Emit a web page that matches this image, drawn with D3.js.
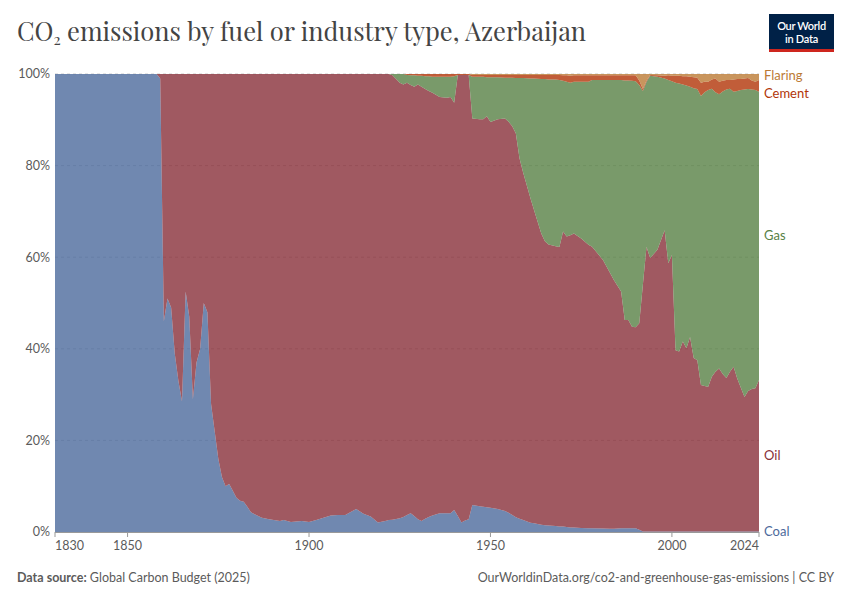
<!DOCTYPE html>
<html lang="en">
<head>
<meta charset="utf-8">
<title>CO2 emissions by fuel or industry type, Azerbaijan</title>
<script src="https://d3js.org/d3.v7.min.js"></script>
<style>
  body { margin: 0; background: #fff; font-family: Lato, "Noto Sans", sans-serif; }
  .tick-label { fill: #5b5b5b; font-size: 12.5px; }
</style>
</head>
<body>
<script>
  // ---------------- data (share of annual CO2, %) ----------------
  const years = [1830, 1858, 1859, 1860, 1861, 1862, 1863, 1864, 1865, 1866, 1867, 1868, 1869, 1870,
    1871, 1872, 1873, 1874, 1875, 1876, 1877, 1878, 1879, 1880, 1881, 1882, 1883, 1884, 1885, 1887,
    1889, 1892, 1893, 1895, 1898, 1900, 1902, 1904, 1906, 1908, 1910, 1913, 1915, 1917, 1919, 1921,
    1922, 1923, 1925, 1926, 1927, 1928, 1929, 1930, 1931, 1932, 1933, 1934, 1936, 1938, 1939, 1940,
    1941, 1942, 1943, 1944, 1945, 1947, 1948, 1949, 1950, 1952, 1954, 1955, 1956, 1957, 1958, 1959,
    1961, 1962, 1964, 1965, 1966, 1968, 1969, 1970, 1971, 1972, 1973, 1975, 1977, 1978, 1981, 1983,
    1984, 1986, 1987, 1988, 1989, 1990, 1991, 1992, 1993, 1994, 1996, 1998, 1999, 2000, 2001, 2002,
    2003, 2004, 2005, 2006, 2007, 2008, 2009, 2010, 2011, 2012, 2013, 2014, 2015, 2016, 2017, 2018,
    2019, 2020, 2021, 2022, 2023, 2024];

  const coal = [100, 100, 99, 46, 51, 49, 39, 33, 28.5, 52.5, 47, 29, 37, 40,
    50, 48, 28, 22, 16, 12, 10, 10.5, 9, 7.5, 6.8, 6.6, 5.5, 4.3, 3.9, 3.1,
    2.8, 2.4, 2.6, 2.2, 2.4, 2.2, 2.6, 3.1, 3.6, 3.7, 3.7, 5.0, 4.0, 3.4, 2.1, 2.4,
    2.6, 2.7, 3.0, 3.3, 3.7, 4.1, 3.5, 2.8, 2.4, 2.9, 3.3, 3.6, 4.1, 4.1, 4.1, 4.8,
    3.5, 2.1, 2.5, 2.8, 5.9, 5.6, 5.5, 5.4, 5.3, 5.0, 4.6, 4.2, 3.7, 3.2, 2.9, 2.6,
    2.0, 1.9, 1.6, 1.5, 1.4, 1.3, 1.2, 1.2, 1.1, 1.0, 1.0, 0.9, 0.8, 0.8, 0.75, 0.7,
    0.7, 0.8, 0.8, 0.8, 0.8, 0.8, 0.5, 0.1, 0.1, 0.1, 0.1, 0.1, 0.1, 0.1, 0.1, 0.1,
    0.1, 0.1, 0.1, 0.1, 0.1, 0.1, 0.1, 0.1, 0.1, 0.1, 0.1, 0.1, 0.1, 0.1, 0.1, 0.1,
    0.1, 0.1, 0.1, 0.1, 0.1, 0.1];

  const oil = [0, 0, 1, 54, 49, 51, 61, 67, 71.5, 47.5, 53, 71, 63, 60,
    50, 52, 72, 78, 84, 88, 90, 89.5, 91, 92.5, 93.2, 93.4, 94.5, 95.7, 96.1, 96.9,
    97.2, 97.6, 97.4, 97.8, 97.6, 97.8, 97.4, 96.9, 96.4, 96.3, 96.3, 95.0, 96.0, 96.6, 97.9, 97.6,
    97.4, 97.0, 95.1, 94.4, 94.4, 93.5, 93.7, 94.9, 94.8, 93.8, 93.0, 92.3, 90.9, 90.7, 90.9, 88.9,
    96.3, 97.7, 97.3, 97.0, 84.4, 84.5, 84.6, 85.4, 84.2, 85.1, 85.7, 85.4, 84.9, 83.8, 78.7, 75.9,
    70.9, 68.4, 63.6, 62.0, 61.4, 61.1, 61.0, 64.4, 63.4, 63.8, 64.2, 63.2, 61.9, 61.5, 58.65, 55.8,
    54.3, 51.7, 45.5, 45.5, 44.0, 43.9, 45.1, 53.9, 62.2, 59.7, 61.5, 65.8, 58.6, 60.4, 39.6, 39.3,
    41.5, 40.0, 42.5, 37.9, 37.4, 32.0, 31.8, 31.6, 33.8, 34.9, 35.6, 34.4, 33.5, 34.9, 36.0, 33.4,
    31.4, 29.4, 30.7, 31.1, 31.3, 33.1];

  const gas = [0, 0, 0, 0, 0, 0, 0, 0, 0, 0, 0, 0, 0, 0,
    0, 0, 0, 0, 0, 0, 0, 0, 0, 0, 0, 0, 0, 0, 0, 0,
    0, 0, 0, 0, 0, 0, 0, 0, 0, 0, 0, 0, 0, 0, 0, 0,
    0, 0.3, 1.9, 2.3, 1.7, 2.1, 2.5, 1.9, 2.4, 2.8, 3.2, 3.5, 4.4, 4.6, 4.4, 5.8,
    0, 0, 0, 0, 9.1, 9.3, 9.3, 8.5, 9.8, 9.2, 8.9, 9.6, 10.6, 12.1, 17.5, 20.6,
    26.1, 28.7, 33.7, 35.4, 36.0, 36.4, 36.5, 32.9, 33.8, 33.3, 33.1, 34.2, 35.6, 36.4, 39.3, 42.2,
    43.7, 46.2, 52.3, 52.3, 53.7, 53.7, 52.0, 42.3, 36.0, 39.8, 37.8, 33.1, 40.0, 37.9, 58.4, 58.5,
    56.1, 57.4, 54.6, 58.9, 59.2, 63.1, 64.1, 64.8, 62.9, 61.0, 59.9, 61.7, 63.0, 61.8, 60.0, 62.8,
    65.0, 67.1, 65.9, 65.4, 65.1, 62.9];

  const cement = [0, 0, 0, 0, 0, 0, 0, 0, 0, 0, 0, 0, 0, 0,
    0, 0, 0, 0, 0, 0, 0, 0, 0, 0, 0, 0, 0, 0, 0, 0,
    0, 0, 0, 0, 0, 0, 0, 0, 0, 0, 0, 0, 0, 0, 0, 0,
    0, 0, 0, 0, 0.2, 0.3, 0.3, 0.4, 0.4, 0.5, 0.5, 0.6, 0.6, 0.6, 0.6, 0.5,
    0.2, 0.2, 0.2, 0.2, 0.4, 0.4, 0.4, 0.5, 0.5, 0.5, 0.6, 0.6, 0.6, 0.7, 0.7, 0.7,
    0.8, 0.8, 0.9, 0.9, 1.0, 1.0, 1.1, 1.2, 1.4, 1.5, 1.4, 1.4, 1.4, 1.0, 1.0, 1.0,
    1.0, 1.0, 1.1, 1.1, 1.2, 1.3, 1.0, 0.4, 0.3, 0.2, 0.3, 0.6, 1.0, 1.2, 1.5, 1.7,
    1.8, 2.0, 2.2, 2.4, 2.5, 2.9, 2.3, 1.8, 2.0, 3.0, 2.7, 2.3, 2.1, 1.9, 2.7, 2.6,
    2.4, 2.4, 2.4, 2.0, 1.8, 2.6];

  const flaring = [0, 0, 0, 0, 0, 0, 0, 0, 0, 0, 0, 0, 0, 0,
    0, 0, 0, 0, 0, 0, 0, 0, 0, 0, 0, 0, 0, 0, 0, 0,
    0, 0, 0, 0, 0, 0, 0, 0, 0, 0, 0, 0, 0, 0, 0, 0,
    0, 0, 0, 0, 0, 0, 0, 0, 0, 0, 0, 0, 0, 0, 0, 0,
    0, 0, 0, 0, 0.2, 0.2, 0.2, 0.2, 0.2, 0.2, 0.2, 0.2, 0.2, 0.2, 0.2, 0.2,
    0.2, 0.2, 0.2, 0.2, 0.2, 0.2, 0.2, 0.3, 0.3, 0.4, 0.3, 0.3, 0.3, 0.3, 0.3, 0.3,
    0.3, 0.3, 0.3, 0.3, 0.3, 0.3, 1.4, 3.3, 1.4, 0.2, 0.3, 0.4, 0.3, 0.4, 0.4, 0.4,
    0.5, 0.5, 0.6, 0.7, 0.8, 1.9, 1.7, 1.7, 1.2, 1.0, 1.7, 1.5, 1.3, 1.3, 1.2, 1.1,
    1.1, 1.0, 0.9, 1.4, 1.7, 1.3];

  const seriesNames = ["Coal", "Oil", "Gas", "Cement", "Flaring"];
  const seriesColors = ["#4c6a9c", "#883039", "#578145", "#b13507", "#bc7a35"];
  const xTickYears = [1830, 1850, 1900, 1950, 2000, 2024];
  const yTickValues = [0, 0.2, 0.4, 0.6, 0.8, 1];

  // ---------------- layout ----------------
  const width = 850, height = 600;
  const plot = { left: 55, right: 759, top: 74, bottom: 532 };

  const svg = d3.select("body").append("svg")
    .attr("width", width)
    .attr("height", height);

  const rows = years.map((yr, i) => ({
    year: yr, Coal: coal[i], Oil: oil[i], Gas: gas[i], Cement: cement[i], Flaring: flaring[i]
  }));

  const x = d3.scaleLinear().domain([1830, 2024]).range([plot.left, plot.right]);
  const y = d3.scaleLinear().domain([0, 1]).range([plot.bottom, plot.top]);

  const stacked = d3.stack()
    .keys(seriesNames)
    .offset(d3.stackOffsetExpand)(rows);

  // grid first, areas are slightly transparent so the dashes show through
  svg.append("g")
    .selectAll("line")
    .data(yTickValues.filter(v => v > 0))
    .join("line")
    .attr("x1", plot.left).attr("x2", plot.right)
    .attr("y1", d => y(d)).attr("y2", d => y(d))
    .attr("stroke", "#ccc")
    .attr("stroke-dasharray", "3,3");

  const area = d3.area()
    .x(d => x(d.data.year))
    .y0(d => y(d[0]))
    .y1(d => y(d[1]));

  svg.append("g")
    .selectAll("path")
    .data(stacked)
    .join("path")
    .attr("d", area)
    .attr("fill", (d, i) => seriesColors[i])
    .attr("fill-opacity", 0.8);

  // y axis labels
  svg.append("g")
    .selectAll("text")
    .data(yTickValues)
    .join("text")
    .attr("class", "tick-label")
    .attr("x", 50)
    .attr("y", d => y(d))
    .attr("dy", "0.35em")
    .attr("text-anchor", "end")
    .text(d => d3.format(".0%")(d));

  // x axis
  const xAxis = svg.append("g");
  xAxis.append("line")
    .attr("x1", plot.left).attr("x2", plot.right)
    .attr("y1", plot.bottom + 0.5).attr("y2", plot.bottom + 0.5)
    .attr("stroke", "#999");
  xAxis.selectAll(".tk")
    .data(xTickYears)
    .join("line")
    .attr("class", "tk")
    .attr("x1", d => x(d)).attr("x2", d => x(d))
    .attr("y1", plot.bottom).attr("y2", plot.bottom + 5)
    .attr("stroke", "#999");
  xAxis.selectAll("text")
    .data(xTickYears)
    .join("text")
    .attr("class", "tick-label")
    .attr("x", d => x(d))
    .attr("y", plot.bottom + 18)
    .attr("text-anchor", (d, i) => i === 0 ? "start" : (i === xTickYears.length - 1 ? "end" : "middle"))
    .text(d => d);

  // series labels on the right, pushed apart when they collide
  const last = stacked.map((s, i) => {
    const p = s[s.length - 1];
    return { name: seriesNames[i], color: seriesColors[i], y: y((p[0] + p[1]) / 2) };
  }).sort((a, b) => a.y - b.y);
  const gap = 18;
  last.forEach((d, i) => {
    if (i === 0) d.y = Math.max(d.y - 2, plot.top + 1);
    else d.y = Math.max(d.y, last[i - 1].y + gap);
  });
  svg.append("g")
    .selectAll("text")
    .data(last)
    .join("text")
    .attr("x", plot.right + 5)
    .attr("y", d => d.y)
    .attr("dy", "0.35em")
    .attr("font-size", "13px")
    .attr("fill", d => d.color)
    .text(d => d.name);

  // title
  const title = svg.append("text")
    .attr("x", 17)
    .attr("y", 41)
    .attr("font-family", "'Playfair Display', 'Liberation Serif', 'DejaVu Serif', serif")
    .attr("font-size", "25.5px")
    .attr("fill", "#444");
  title.append("tspan").text("CO");
  title.append("tspan").attr("font-size", "15px").attr("dy", "4").text("2");
  title.append("tspan").attr("dy", "-4").text(" emissions by fuel or industry type, Azerbaijan");

  // logo
  const logo = svg.append("g").attr("transform", "translate(769,14)");
  logo.append("rect").attr("width", 65).attr("height", 38).attr("fill", "#002147");
  logo.append("rect").attr("y", 35).attr("width", 65).attr("height", 3).attr("fill", "#ce261e");
  logo.selectAll("text")
    .data(["Our World", "in Data"])
    .join("text")
    .attr("x", 32.5)
    .attr("y", (d, i) => 16 + i * 13)
    .attr("text-anchor", "middle")
    .attr("font-size", "11px")
    .attr("font-weight", 600)
    .attr("letter-spacing", "-0.3px")
    .attr("fill", "#fff")
    .text(d => d);

  // footer
  const src = svg.append("text")
    .attr("x", 17).attr("y", 582)
    .attr("font-size", "12.5px")
    .attr("fill", "#5b5b5b");
  src.append("tspan").attr("font-weight", 700).text("Data source:");
  src.append("tspan").text(" Global Carbon Budget (2025)");

  svg.append("text")
    .attr("x", 834).attr("y", 582)
    .attr("text-anchor", "end")
    .attr("font-size", "12.5px")
    .attr("fill", "#5b5b5b")
    .text("OurWorldinData.org/co2-and-greenhouse-gas-emissions | CC BY");
</script>
</body>
</html>
